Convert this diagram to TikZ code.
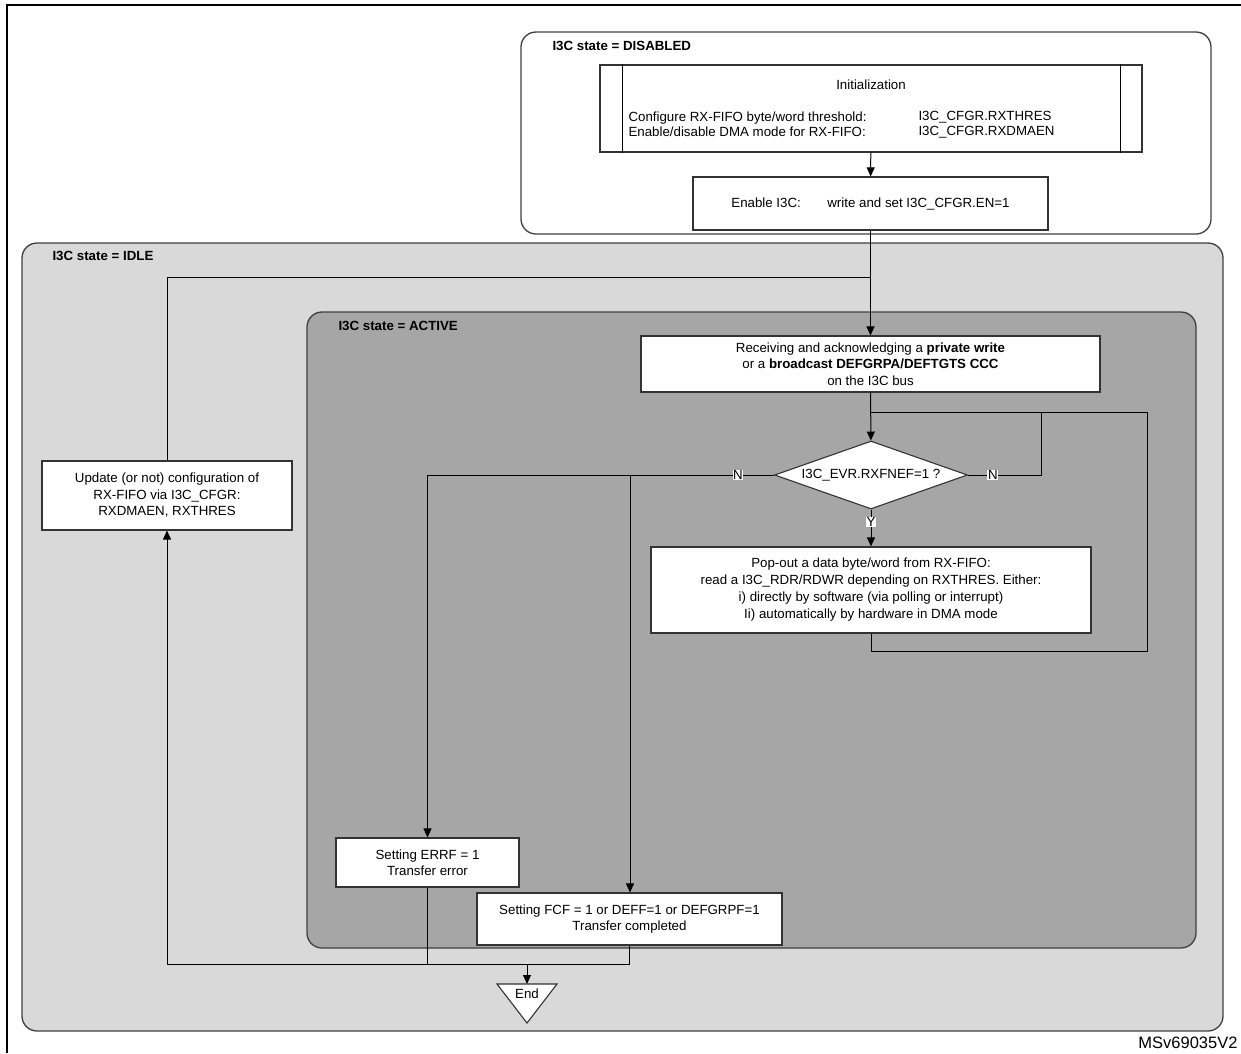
\documentclass[tikz,border=0pt]{standalone}
\usepackage{fontspec}
\setmainfont{Liberation Sans}
\usetikzlibrary{arrows.meta,shapes.geometric}
\definecolor{idlegray}{HTML}{D9D9D9}
\definecolor{activegray}{HTML}{A6A6A6}
\begin{document}
\begin{tikzpicture}[x=1pt,y=-1pt, line width=1pt,
  font=\fontsize{13.3}{16.5}\selectfont,
  state/.style={draw=black!75, line width=1.3pt, rounded corners=15pt},
  box/.style={draw=black!80, fill=white, line width=1.1pt, align=center, inner sep=0pt},
  title/.style={anchor=base west, inner sep=0pt, font=\bfseries\fontsize{13.3}{16}\selectfont},
  lbl/.style={fill=white, inner sep=0.6pt},
  arr/.style={-{Triangle[length=9pt,width=8pt]}}]
\useasboundingbox (0,0) rectangle (1241,1053);
\draw[line width=2pt] (7,1053) -- (7,5) -- (1241,5);
\draw[state, fill=white] (521,32) rectangle (1211,234);
\draw[state, fill=idlegray] (22,243) rectangle (1223,1031);
\draw[state, fill=activegray] (307,312) rectangle (1196,948);
\node[title] (tdis) at (552,50) {I3C state = DISABLED};
\node[title] (tidle) at (52,260) {I3C state = IDLE};
\node[title] (tact) at (338,330) {I3C state = ACTIVE};
\node[box, minimum width=542, minimum height=87] (init) at (871,108.5) {};
\draw[line width=1.1pt] ([xshift=23]init.north west) -- ([xshift=23]init.south west);
\draw[line width=1.1pt] ([xshift=-22]init.north east) -- ([xshift=-22]init.south east);
\node (inith) at (871,85) {Initialization};
\node[anchor=west, align=left, inner sep=0pt, font=\fontsize{13.3}{15}\selectfont] (initl) at (628,124.5) {Configure RX-FIFO byte/word threshold:\\Enable/disable DMA mode for RX-FIFO:};
\node[anchor=west, align=left, inner sep=0pt, font=\fontsize{13.3}{15}\selectfont] (initr) at (918,124.5) {I3C\_CFGR.RXTHRES\\I3C\_CFGR.RXDMAEN};
\node[box, minimum width=355, minimum height=53] (enable) at (870.5,203.5) {Enable I3C:\hspace{26.5pt}write and set I3C\_CFGR.EN=1};
\node[box, minimum width=459, minimum height=56] (recv) at (870.5,364) {Receiving and acknowledging a \textbf{private write}\\or a \textbf{broadcast DEFGRPA/DEFTGTS CCC}\\on the I3C bus};
\node[box, diamond, aspect=2.84, minimum width=193, minimum height=68] (dec) at (871,475) {I3C\_EVR.RXFNEF=1 ?};
\node[box, minimum width=440, minimum height=86, font=\fontsize{13.3}{17}\selectfont] (pop) at (871,590) {Pop-out a data byte/word from RX-FIFO:\\read a I3C\_RDR/RDWR depending on RXTHRES. Either:\\i) directly by software (via polling or interrupt)\\Ii) automatically by hardware in DMA mode};
\node[box, minimum width=250, minimum height=69] (update) at (167,495.5) {Update (or not) configuration of\\RX-FIFO via I3C\_CFGR:\\RXDMAEN, RXTHRES};
\node[box, minimum width=183, minimum height=49] (errf) at (427.5,862.5) {Setting ERRF = 1\\Transfer error};
\node[box, minimum width=305, minimum height=52] (fcf) at (629.5,919) {Setting FCF = 1 or DEFF=1 or DEFGRPF=1\\Transfer completed};
\draw[line width=1.1pt, draw=black!80, fill=white] (497,984) -- (557,984) -- (527,1023) -- cycle;
\node (endn) at (527,994) {End};
\coordinate (join) at (871,277);
\coordinate (loop) at (871,412);
\coordinate (split) at (630,475);
\coordinate (bus) at (527,964);
\coordinate (endtop) at (527,984);
\draw[arr](init) -- (enable);
\draw[arr](enable) -- (recv);
\draw[](update) |- (join);
\draw[arr](recv) -- (dec);
\draw[](dec.east) -- node[lbl, pos=0.34]{N} ++(73,0) |- (loop);
\draw[arr](dec) -- node[lbl, pos=0.34]{Y} (pop);
\draw[](pop.south) -- ++(0,18) -| (1147,412) -- (loop);
\draw[arr](dec.west) -| node[lbl, pos=0.052]{N} (errf);
\draw[arr](split) -- (fcf.north -| split);
\draw[](errf.south) -- ++(0,77);
\draw[arr](fcf.south) -- ++(0,19) -| (update);
\draw[arr](bus) -- (endtop);
\node[anchor=base east, inner sep=0pt, font=\fontsize{16.5}{18}\selectfont] (ref) at (1238,1048) {MSv69035V2};
\end{tikzpicture}
\end{document}
